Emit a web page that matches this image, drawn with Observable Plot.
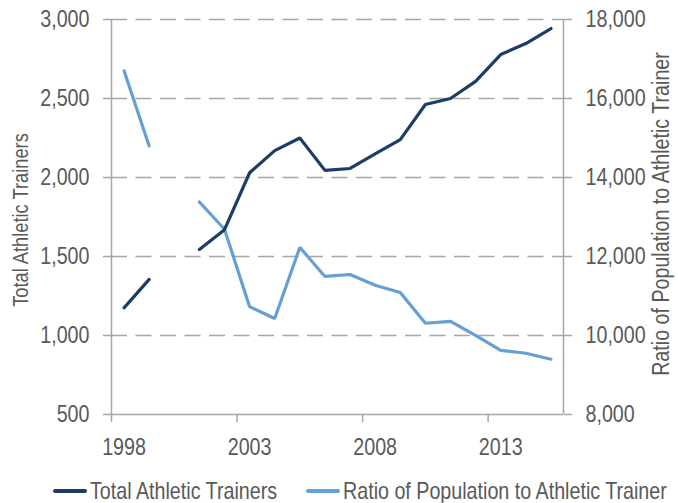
<!DOCTYPE html>
<html>
<head>
<meta charset="utf-8">
<script src="https://cdn.jsdelivr.net/npm/d3@7"></script>
<script src="https://cdn.jsdelivr.net/npm/@observablehq/plot@0.6"></script>
<style>
  html, body { margin: 0; padding: 0; background: #fff; overflow: hidden; }
  body { font-family: "Liberation Sans", Arial, sans-serif; color: #595959; }
  #legend { display: flex; align-items: center; height: 42px; padding-left: 53px; font-size: 24px; white-space: nowrap; }
  #legend .item { display: flex; align-items: center; flex: none; }
  #legend .item + .item { margin-left: 29px; }
  #legend .sw { display: inline-block; width: 34px; height: 4px; margin-right: 3px; border-radius: 2px; }
  #legend .lab { display: inline-block; transform-origin: left center; }
</style>
</head>
<body>
<div id="chart"></div>
<div id="legend"></div>
<script>
// ---- data ----
const years = [1998, 1999, 2000, 2001, 2002, 2003, 2004, 2005, 2006, 2007, 2008, 2009, 2010, 2011, 2012, 2013, 2014, 2015];
const totalAthleticTrainers = [1175, 1355, null, 1545, 1670, 2030, 2170, 2250, 2045, 2057, 2150, 2240, 2462, 2500, 2608, 2778, 2848, 2943];
const populationRatio = [16700, 14800, null, 13380, 12690, 10730, 10430, 12230, 11495, 11545, 11270, 11090, 10310, 10360, 10005, 9625, 9550, 9400];
const leftTicks = [500, 1000, 1500, 2000, 2500, 3000];
const rightTicks = [8000, 10000, 12000, 14000, 16000, 18000];
const yearLabels = [1998, 2003, 2008, 2013];
const seriesNames = ["Total Athletic Trainers", "Ratio of Population to Athletic Trainer"];
const leftTitle = "Total Athletic Trainers";
const rightTitle = "Ratio of Population to Athletic Trainer";
const colors = ["#1b3d66", "#65a0d4"];

// ---- secondary axis mapping (right values onto the left scale) ----
const L0 = leftTicks[0], L1 = leftTicks[leftTicks.length - 1];
const R0 = rightTicks[0], R1 = rightTicks[rightTicks.length - 1];
const toLeft = v => (v == null ? NaN : L0 + (v - R0) * (L1 - L0) / (R1 - R0));
const fromLeft = v => R0 + (v - L0) * (R1 - R0) / (L1 - L0);

const data = years.map((yr, i) => ({
  year: yr,
  total: totalAthleticTrainers[i] == null ? NaN : totalAthleticTrainers[i],
  ratio: toLeft(populationRatio[i])
}));

const boundaries = yearLabels.map(y => y - 0.5);
const font = '"Liberation Sans", Arial, sans-serif';
const gray = "#a6a6a6";
const textGray = "#595959";
const fmt = d3.format(",");
const CONDENSE = 0.82;

const chart = Plot.plot({
  width: 678,
  height: 470,
  marginLeft: 111,
  marginRight: 115,
  marginTop: 19,
  marginBottom: 56,
  style: { fontFamily: font, color: textGray, background: "#fff", overflow: "visible" },
  x: { domain: [years[0] - 0.5, years[years.length - 1] + 0.5] },
  y: { domain: [L0, L1] },
  marks: [
    Plot.ruleY(leftTicks.slice(1), { stroke: gray, strokeWidth: 1.5, strokeDasharray: "16,8.5" }),
    Plot.ruleX([years[0] - 0.5, years[years.length - 1] + 0.5], { stroke: gray, strokeWidth: 1.5 }),
    Plot.ruleY([L0], { stroke: gray, strokeWidth: 1.5 }),
    Plot.axisY({ ticks: leftTicks, tickSize: 8, tickPadding: 14, tickFormat: fmt, fontSize: 24, label: null, stroke: gray, fill: textGray, strokeWidth: 1.5 }),
    Plot.axisY({ anchor: "right", ticks: leftTicks, tickSize: 8, tickPadding: 14, tickFormat: d => fmt(Math.round(fromLeft(d))), fontSize: 24, label: null, stroke: gray, fill: textGray, strokeWidth: 1.5 }),
    Plot.axisX({ ticks: boundaries, tickSize: 8, tickFormat: () => "", label: null, stroke: gray, strokeWidth: 1.5 }),
    Plot.axisX({ ticks: yearLabels, tickSize: 0, tickPadding: 23, tickFormat: d => String(d), fontSize: 24, label: null, fill: textGray }),
    Plot.line(data, { x: "year", y: "ratio", stroke: colors[1], strokeWidth: 3.2, strokeLinecap: "round", strokeLinejoin: "miter" }),
    Plot.line(data, { x: "year", y: "total", stroke: colors[0], strokeWidth: 3.2, strokeLinecap: "round", strokeLinejoin: "miter" }),
    Plot.text([leftTitle], { text: d => d, frameAnchor: "left", rotate: -90, dx: -91, dy: 3, textAnchor: "middle", lineAnchor: "middle", fontSize: 22.3, fill: textGray }),
    Plot.text([rightTitle], { text: d => d, frameAnchor: "right", rotate: -90, dx: 98, dy: -3, textAnchor: "middle", lineAnchor: "middle", fontSize: 24, fill: textGray })
  ]
});
document.getElementById("chart").appendChild(chart);

// condense all chart texts along their reading direction (the reference uses a condensed face)
chart.querySelectorAll("text").forEach(t => {
  const tr = t.getAttribute("transform");
  if (tr && tr.includes("rotate")) {
    t.setAttribute("transform", `${tr} scale(${CONDENSE},1)`);
  } else {
    const w = t.getComputedTextLength();
    if (w > 0) {
      t.setAttribute("textLength", (w * CONDENSE).toFixed(2));
      t.setAttribute("lengthAdjust", "spacingAndGlyphs");
    }
  }
});

const legend = document.getElementById("legend");
seriesNames.forEach((name, i) => {
  const item = document.createElement("div");
  item.className = "item";
  const sw = document.createElement("span");
  sw.className = "sw";
  sw.style.background = colors[i];
  const label = document.createElement("span");
  label.className = "lab";
  label.textContent = name;
  item.appendChild(sw);
  item.appendChild(label);
  legend.appendChild(item);
  const w = label.getBoundingClientRect().width;
  label.style.transform = `scaleX(${CONDENSE})`;
  label.style.marginRight = `${-(w * (1 - CONDENSE)).toFixed(2)}px`;
});
</script>
</body>
</html>
